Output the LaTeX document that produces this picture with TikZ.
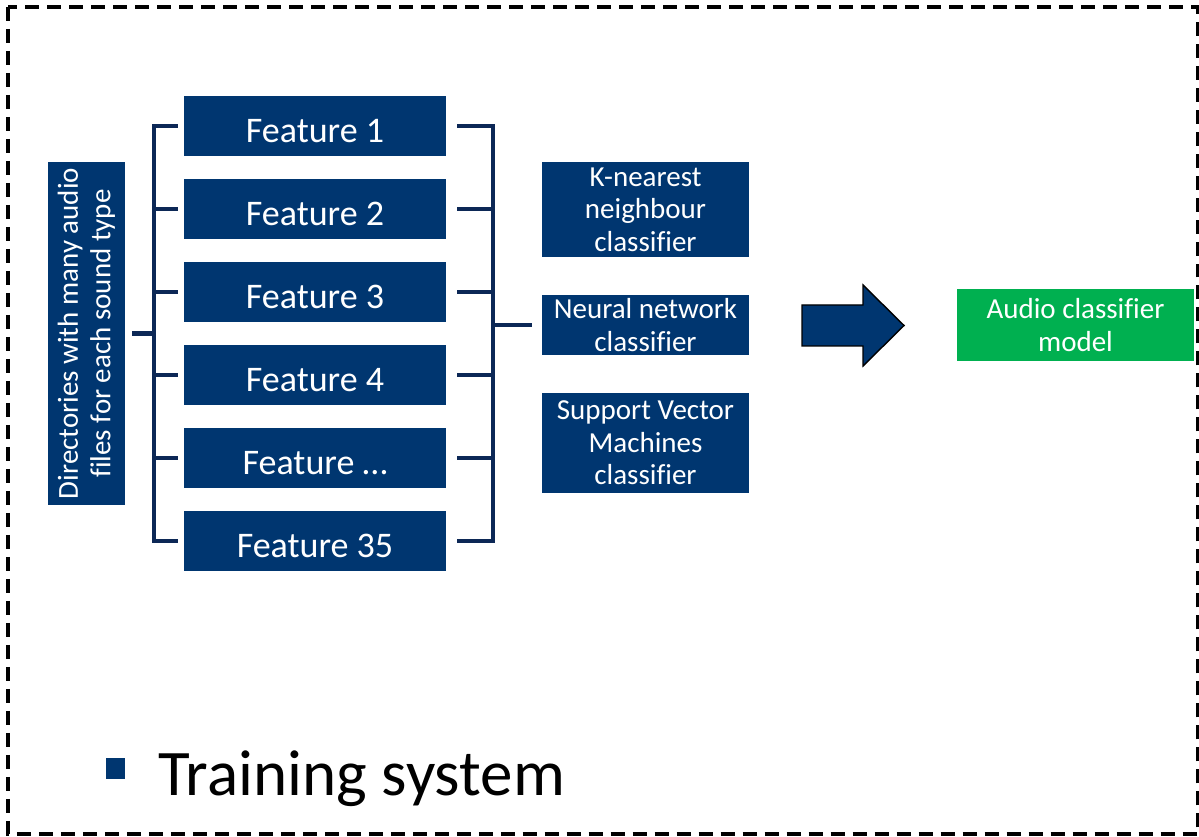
\documentclass[tikz,border=0pt]{standalone}
\usepackage{fontspec}
\setmainfont{Carlito}[Ligatures=NoCommon]
\usetikzlibrary{positioning,calc}
\definecolor{boxblue}{RGB}{0,54,112}
\definecolor{linkblue}{RGB}{12,40,86}
\definecolor{modelgreen}{RGB}{0,176,80}
\tikzset{font=\fontsize{16.5}{18.5}\selectfont}

\begin{document}
\begin{tikzpicture}[x=0.02cm, y=-0.02cm]
	\useasboundingbox (0,0) rectangle (1199,837);
	\tikzstyle{box}=[fill=boxblue, text=white, align=center, inner sep=1pt]
	\tikzstyle{feature}=[box, minimum width=5.24cm, minimum height=1.2cm, text height=0.66cm, text depth=0pt, font=\fontsize{20.5}{24}\selectfont]
	\tikzstyle{classifier}=[box, minimum width=4.14cm]
	\tikzstyle{link}=[draw=linkblue, line width=2.3pt]

	% outer frame
	\draw[line width=2.3pt, dash pattern=on 0.28cm off 0.16cm] (8,7) rectangle (1198,834);

	% input data
	\node[box, rotate=90, minimum width=6.86cm, minimum height=1.54cm] (src) at (86.5,333.5) {Directories with many audio\\files for each sound type};

	% extracted features
	\node[feature] (f1) at (315,126) {Feature 1};
	\node[feature] (f2) at (315,209) {Feature 2};
	\node[feature] (f3) at (315,292) {Feature 3};
	\node[feature] (f4) at (315,375) {Feature 4};
	\node[feature] (f5) at (315,458) {Feature \dots};
	\node[feature] (f6) at (315,541) {Feature 35};

	% classifiers
	\node[classifier, minimum height=1.9cm] (knn) at (645.5,209.5) {K-nearest\\neighbour\\classifier};
	\node[classifier, minimum height=1.2cm] (nn) at (645.5,325) {Neural network\\classifier};
	\node[classifier, minimum height=2cm] (svm) at (645.5,443) {Support Vector\\Machines\\classifier};

	\node[box, fill=modelgreen, minimum width=4.74cm, minimum height=1.46cm] (model) at (1075.5,325) {Audio classifier\\model};

	% brackets
	\coordinate (lbus) at (154,333);
	\coordinate (rbus) at (493,330);

	\draw[link, shorten <=0.14cm] (src.south) -- (src.south -| lbus);
	\draw[link, shorten <=0.12cm, shorten >=0.12cm] (f1.west) -- (lbus |- f1.west) -- (lbus |- f6.west) -- (f6.west);
	\foreach \f in {f2,f3,f4,f5}
		\draw[link, shorten <=0.12cm] (\f.west) -- (lbus |- \f.west);

	\draw[link, shorten <=0.22cm, shorten >=0.22cm] (f1.east) -- (rbus |- f1.east) -- (rbus |- f6.east) -- (f6.east);
	\foreach \f in {f2,f3,f4,f5}
		\draw[link, shorten <=0.22cm] (\f.east) -- (rbus |- \f.east);
	\draw[link, shorten >=0.2cm] (rbus |- nn.west) -- (nn.west);

	% block arrow
	\draw[fill=boxblue, line width=0.8pt] (802,305) -- (863,305) -- (863,285) -- (904,325.5) -- (863,366) -- (863,346) -- (802,346) -- cycle;

	% caption
	\node[fill=boxblue, minimum width=0.38cm, minimum height=0.42cm, inner sep=0] (bullet) at (115.5,768.5) {};
	\node[anchor=base west, font=\fontsize{37}{41}\selectfont, inner sep=0] (title) at (158,795) {Training system};
\end{tikzpicture}
\end{document}
